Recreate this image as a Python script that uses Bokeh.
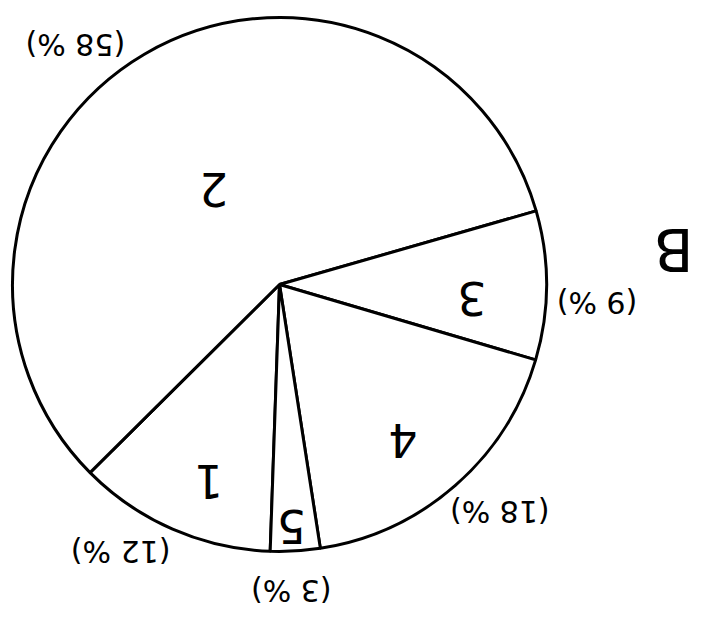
import numpy as np
from bokeh.plotting import figure
from bokeh.models import Range1d
from bokeh.core.properties import value
from bokeh.embed import file_html
from bokeh.resources import INLINE

# ---- data ----
categories = ["1", "2", "3", "4", "5"]
percents = [12, 58, 9, 18, 3]
pct_labels = ["(12 %)", "(58 %)", "(9 %)", "(18 %)", "(3 %)"]
panel_label = "B"

# ---- layout ----
W, H = 693, 611
IMG_H = 619
cx, cy = 279, IMG_H - 284
R = 267
start_deg = 268.0  # slices go clockwise from here

frac = np.array(percents, dtype=float) / sum(percents)
bounds = np.radians(start_deg) - np.concatenate([[0], np.cumsum(frac)]) * 2 * np.pi
starts = bounds[:-1]
ends = bounds[1:]
mids = (starts + ends) / 2

# label placement (layout only)
inner_off = np.radians([3.9, 4.6, -4.1, -2.9, -0.6])
inner_r = np.array([210, 115, 193, 199, 243])
outer_off = np.radians([-7.1, 10.0, -3.1, 3.0, -1.2])
outer_r = np.array([311, 315, 318, 316, 306])

p = figure(width=W, height=H, output_backend="svg", toolbar_location=None,
           x_range=Range1d(0, W), y_range=Range1d(IMG_H - H, IMG_H),
           min_border=0, min_border_left=0, min_border_right=0,
           min_border_top=0, min_border_bottom=0)
p.axis.visible = False
p.grid.visible = False
p.outline_line_color = None
p.background_fill_color = "white"
p.border_fill_color = "white"

p.wedge(x=cx, y=cy, radius=R, start_angle=starts, end_angle=ends,
        direction="clock", fill_color="white", line_color="black", line_width=3)

font = value("DejaVu Sans")
ia = mids + inner_off
p.text(x=cx + inner_r * np.cos(ia), y=cy + inner_r * np.sin(ia), text=categories,
       angle=np.pi, text_align="center", text_baseline="middle",
       text_font=font, text_font_size="46px", text_color="black")
oa = mids + outer_off
p.text(x=cx + outer_r * np.cos(oa), y=cy + outer_r * np.sin(oa), text=pct_labels,
       angle=np.pi, text_align="center", text_baseline="middle",
       text_font=font, text_font_size="30px", text_color="black")
p.text(x=[673], y=[IMG_H - 248], text=[panel_label], angle=np.pi,
       text_align="center", text_baseline="middle",
       text_font=font, text_font_size="58px", text_color="black")

open("out.html", "w").write(file_html(p, INLINE))
